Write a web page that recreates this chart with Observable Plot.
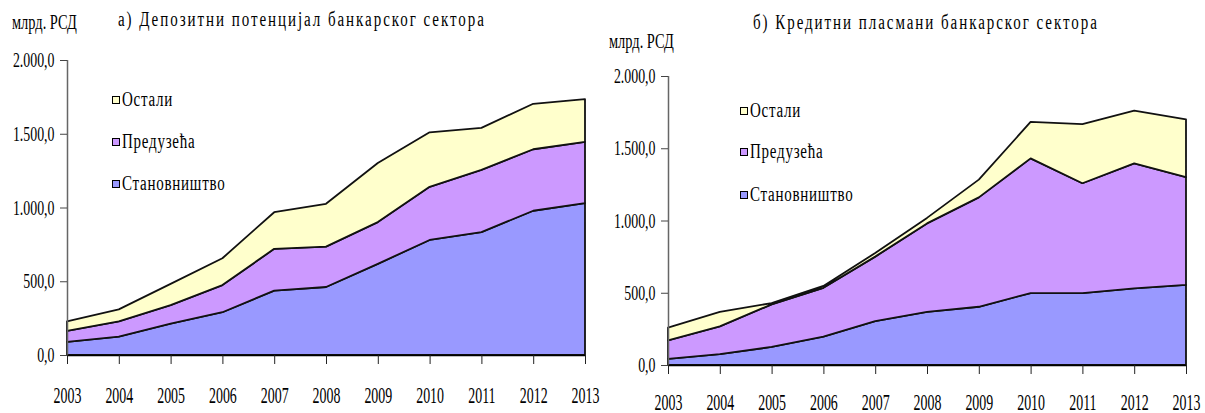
<!DOCTYPE html>
<html>
<head>
<meta charset="utf-8">
<script src="https://cdn.jsdelivr.net/npm/d3@7"></script>
<script src="https://cdn.jsdelivr.net/npm/@observablehq/plot@0.6"></script>
<style>
  html, body { margin: 0; padding: 0; background: #fff; }
  body { width: 1205px; height: 413px; position: relative; overflow: hidden; font-family: "Liberation Serif", serif; color: #000; }
  .panel { position: absolute; top: 0; }
  .txt { position: absolute; white-space: nowrap; transform-origin: 0 50%; line-height: 1; }
  .legend-row { position: absolute; white-space: nowrap; display: flex; align-items: center; }
  .sw { width: 6px; height: 6px; border: 1px solid #000; display: inline-block; margin-right: 2px; }
  .lt { display: inline-block; font-size: 20px; transform: scaleX(0.75); transform-origin: 0 50%; letter-spacing: 1px; }
  svg text { font-family: "Liberation Serif", serif; }
</style>
</head>
<body>
<script>
// ---- data (млрд. РСД) ----
const years = [2003, 2004, 2005, 2006, 2007, 2008, 2009, 2010, 2011, 2012, 2013];
const seriesNames = ["Становништво", "Предузећа", "Остали"];
const seriesColors = ["#9999FF", "#CC99FF", "#FFFFCC"];

// а) Депозитни потенцијал банкарског сектора
const depositHouseholds = [89, 125, 212, 290, 436, 461, 618, 780, 833, 978, 1030];
const depositCompanies  = [75, 103, 126, 184, 284, 274, 283, 360, 422, 417, 415];
const depositOther      = [64, 81, 144, 182, 248, 290, 401, 370, 285, 308, 290];

// б) Кредитни пласмани банкарског сектора
const creditHouseholds = [42, 75, 125, 197, 304, 367, 403, 498, 498, 530, 554];
const creditCompanies  = [128, 192, 295, 337, 446, 613, 757, 932, 760, 865, 746];
const creditOther      = [88, 101, 8, 13, 25, 38, 123, 252, 409, 365, 400];

const yTicks = [0, 500, 1000, 1500, 2000];
const yTickLabels = ["0,0", "500,0", "1.000,0", "1.500,0", "2.000,0"];
const unitLabel = "млрд. РСД";
const titleA = "а) Депозитни потенцијал банкарског сектора";
const titleB = "б) Кредитни пласмани банкарског сектора";

function rows(a, b, c) {
  const out = [];
  [a, b, c].forEach((arr, k) => arr.forEach((v, i) => out.push({year: years[i], series: seriesNames[k], value: v})));
  return out;
}

function condense(svg, label, sx) {
  svg.querySelectorAll(`[aria-label="${label}"] text`).forEach((t) => {
    const tr = t.getAttribute("transform") || "";
    t.setAttribute("transform", (tr + ` scale(${sx},1)`).trim());
  });
}

function makeChart(data, o) {
  const svg = Plot.plot({
    width: o.width, height: 413,
    marginLeft: o.ml, marginRight: o.mr, marginTop: o.mt, marginBottom: o.mb,
    style: {background: "transparent", overflow: "visible"},
    x: {type: "linear", domain: [2003, 2013], label: null},
    y: {domain: [0, 2000], label: null},
    color: {domain: seriesNames, range: seriesColors},
    marks: [
      Plot.areaY(data, {x: "year", y: "value", z: "series", fill: "series", order: seriesNames,
        stroke: "#111", strokeWidth: 1.8, strokeLinejoin: "round"}),
      Plot.ruleX([2003], {stroke: "#666", strokeWidth: 1.5}),
      Plot.ruleY([0], {stroke: "#000", strokeWidth: 1.5}),
      Plot.axisY({ticks: yTicks, tickFormat: (d) => yTickLabels[yTicks.indexOf(d)], tickSize: 7, tickPadding: 6,
        fontSize: 21, stroke: "#444", label: null}),
      Plot.axisX({ticks: years, tickFormat: (d) => String(d), tickSize: 9, tickPadding: o.xpad,
        fontSize: 24, stroke: "#222", label: null})
    ]
  });
  condense(svg, "y-axis tick label", 0.66);
  condense(svg, "x-axis tick label", 0.58);
  return svg;
}

function addText(str, left, top, size, sx, ls) {
  const d = document.createElement("div");
  d.className = "txt";
  d.textContent = str;
  d.style.left = left + "px";
  d.style.top = top + "px";
  d.style.fontSize = size + "px";
  d.style.transform = `scaleX(${sx})`;
  if (ls) d.style.letterSpacing = ls + "px";
  document.body.appendChild(d);
}

function addLegend(left, tops) {
  [2, 1, 0].forEach((k, j) => {
    const r = document.createElement("div");
    r.className = "legend-row";
    r.style.left = left + "px";
    r.style.top = tops[j] + "px";
    const s = document.createElement("span");
    s.className = "sw";
    s.style.background = seriesColors[k];
    const t = document.createElement("span");
    t.className = "lt";
    t.textContent = seriesNames[k];
    r.appendChild(s); r.appendChild(t);
    document.body.appendChild(r);
  });
}

const left = document.createElement("div");
left.className = "panel"; left.style.left = "0px";
left.appendChild(makeChart(rows(depositHouseholds, depositCompanies, depositOther),
  {width: 600, ml: 67, mr: 15, mt: 60, mb: 58, xpad: 21}));
document.body.appendChild(left);

const right = document.createElement("div");
right.className = "panel"; right.style.left = "600px";
right.appendChild(makeChart(rows(creditHouseholds, creditCompanies, creditOther),
  {width: 605, ml: 68, mr: 19, mt: 76, mb: 48, xpad: 18}));
document.body.appendChild(right);

addText(unitLabel, 12, 12, 20, 0.72, 0);
addText(titleA, 118, 9, 20, 0.75, 2.6);
addText(unitLabel, 609, 31, 20, 0.72, 0);
addText(titleB, 753, 12, 20, 0.75, 2.6);

addLegend(112, [88, 130, 172]);
addLegend(740, [99, 140, 183]);
</script>
</body>
</html>
